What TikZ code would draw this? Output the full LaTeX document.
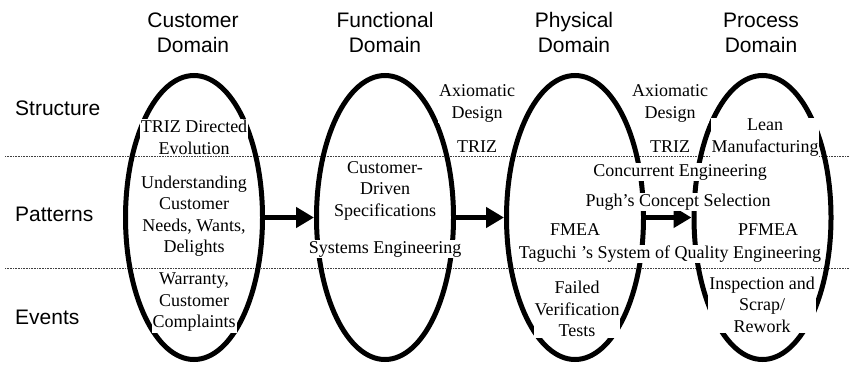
\documentclass[tikz,border=0pt]{standalone}
\usepackage{fontspec}
\setmainfont{Liberation Serif}
\newfontfamily\labelfont{Liberation Sans}
\usetikzlibrary{shapes.geometric,arrows.meta}
\begin{document}
\begin{tikzpicture}[x=1pt,y=-1pt,
  domainring/.style={ellipse, draw, line width=5pt, minimum width=137pt, minimum height=284pt, inner sep=0pt},
  flow/.style={line width=5pt, -{Triangle[length=18pt,width=20pt]}},
  divider/.style={line width=0.6pt, black!75, dash pattern=on 0.7pt off 0.9pt},
  head/.style={font=\labelfont\fontsize{21}{25}\selectfont, align=center, inner sep=0pt},
  rowlabel/.style={font=\labelfont\fontsize{21}{25}\selectfont, anchor=west, inner sep=0pt},
  tool/.style={font=\fontsize{18}{21.5}\selectfont, align=center, fill=white, inner sep=1pt}]
\useasboundingbox (0,0) rectangle (850,364);

% dotted dividers between the three levels
\coordinate (d1a) at (5,156);  \coordinate (d1b) at (850,156);
\coordinate (d2a) at (5,268);  \coordinate (d2b) at (850,268);
\draw[divider] (d1a) -- (d1b);
\draw[divider] (d2a) -- (d2b);

% column headings
\node[head] (hcust) at (193,32.5) {Customer\\Domain};
\node[head] (hfunc) at (385,32.5) {Functional\\Domain};
\node[head] (hphys) at (574,32.5) {Physical\\Domain};
\node[head] (hproc) at (761,32.5) {Process\\Domain};

% row labels
\node[rowlabel] (rstruct) at (15,108) {Structure};
\node[rowlabel] (rpatt) at (15,214) {Patterns};
\node[rowlabel] (revents) at (15,317) {Events};

% the four domains
\node[domainring] (cust) at (194,217.5) {};
\node[domainring] (func) at (385,217.5) {};
\node[domainring] (phys) at (575,217.5) {};
\node[domainring] (proc) at (762.5,217.5) {};

% mapping arrows
\draw[flow] (cust.east) -- (func.west);
\draw[flow] (func.east) -- (phys.west);
\draw[flow] (phys.east) -- (proc.west);

% customer domain
\node[tool] (triz1) at (194,137.5) {TRIZ Directed\\Evolution};
\node[tool] (needs) at (194,216) {Understanding\\Customer\\Needs, Wants,\\Delights};
\node[tool] (warr) at (194,302.5) {Warranty,\\Customer\\Complaints};

% functional domain
\node[tool] (spec) at (385,190.5) {Customer-\\Driven\\Specifications};
\node[tool] (syseng) at (385,249) {Systems Engineering};

% between functional and physical
\node[tool] (axio1) at (477,103.5) {Axiomatic\\Design};
\node[tool] (triz2) at (477,147) {TRIZ};

% between physical and process
\node[tool] (axio2) at (670,103.5) {Axiomatic\\Design};
\node[tool] (triz3) at (670,147) {TRIZ};

% process domain
\node[tool] (lean) at (765,137.5) {Lean\\Manufacturing};

% shared methods
\node[tool] (conc) at (680,172) {Concurrent Engineering};
\node[tool] (pugh) at (678,202) {Pugh’s Concept Selection};
\node[tool] (fmea) at (575,230) {FMEA};
\node[tool] (pfmea) at (768,230) {PFMEA};
\node[tool] (taguchi) at (670,254) {Taguchi ’s System of Quality Engineering};

% events
\node[tool] (failed) at (577,309) {Failed\\Verification\\Tests};
\node[tool] (insp) at (762,304.5) {Inspection and\\Scrap/\\Rework};
\end{tikzpicture}
\end{document}
